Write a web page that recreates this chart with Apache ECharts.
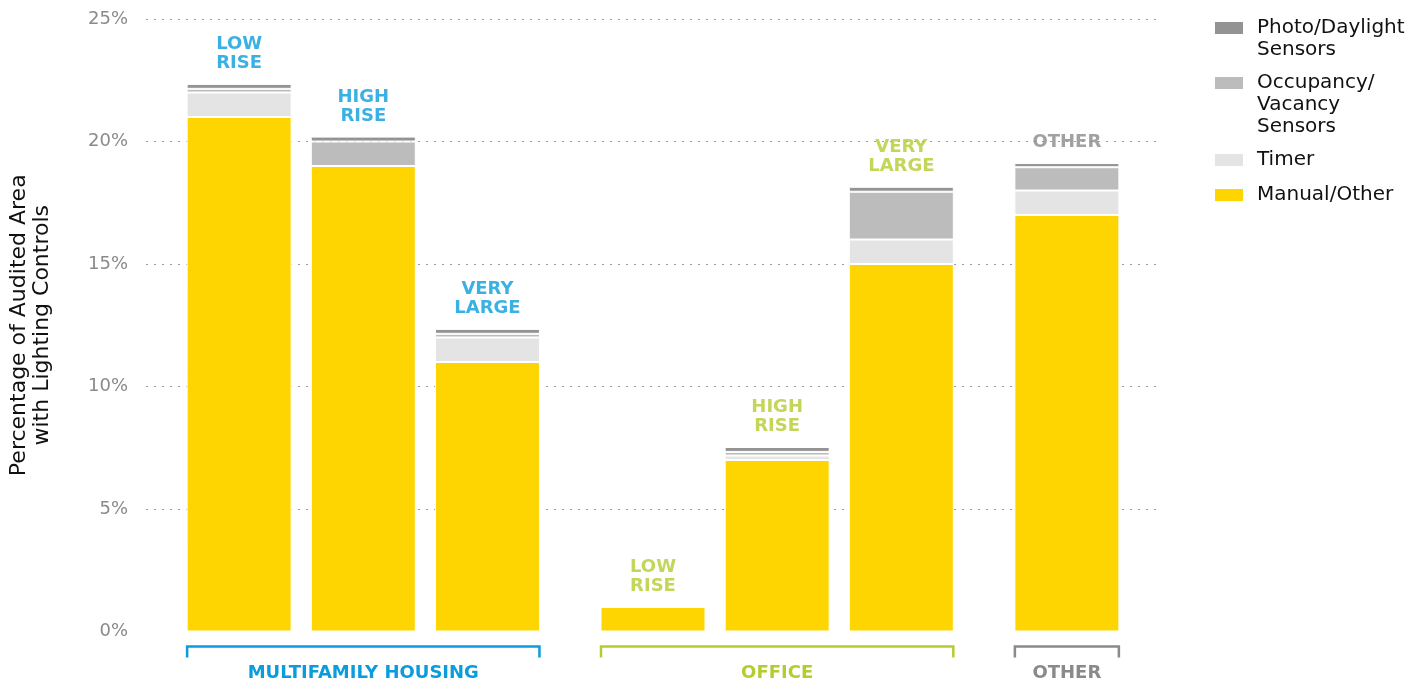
<!DOCTYPE html>
<html>
<head>
<meta charset="utf-8">
<script src="https://cdn.jsdelivr.net/npm/echarts@6/dist/echarts.min.js"></script>
<style>
  html, body { margin: 0; padding: 0; background: #fff; }
  #chart { width: 1422px; height: 683px; }
</style>
</head>
<body>
<div id="chart"></div>
<script>
// categories and groups
const groups = ['MULTIFAMILY HOUSING', 'OFFICE', 'OTHER'];
const barGroup = [0, 0, 0, 1, 1, 1, 2];
const barLabels = ['LOW\nRISE', 'HIGH\nRISE', 'VERY\nLARGE', 'LOW\nRISE', 'HIGH\nRISE', 'VERY\nLARGE', 'OTHER'];

// series values (% of audited area)
const manualOther = [21.0, 19.0, 11.0, 1.0, 7.0, 15.0, 17.0];
const timer       = [1.0, 0, 1.0, 0, 0.18, 1.0, 1.0];
const occupancy   = [0.15, 1.0, 0.15, 0, 0.15, 1.95, 0.95];
const photo       = [0.2, 0.2, 0.2, 0, 0.2, 0.2, 0.17];

const yTicks = [0, 5, 10, 15, 20, 25];

const seriesNames = ['Manual/Other', 'Timer', 'Occupancy/\nVacancy\nSensors', 'Photo/Daylight\nSensors'];
const seriesColors = ['#fed500', '#e4e4e5', '#bcbcbd', '#939393'];
const groupColors = ['#0a9cdc', '#b5cc30', '#8a8a8a'];
const FONT = 'DejaVu Sans';

const myChart = echarts.init(document.getElementById('chart'));

// layout slots: the plot is split in narrow slots, bars 6 slots apart,
// 2 extra slots between groups, 4 slots of margin on the left
const SLOTS = 49;
const slotNames = Array.from({ length: SLOTS }, (_, i) => String(i));
const pos = barGroup.map((g, i) => 4 + i * 6 + g * 2);
const totals = manualOther.map((v, i) => v + timer[i] + occupancy[i] + photo[i]);

function spread(vals) {
  const out = new Array(SLOTS).fill('-');
  vals.forEach((v, i) => { out[pos[i]] = v; });
  return out;
}

const groupSpans = groups.map((name, g) => {
  const p = pos.filter((_, i) => barGroup[i] === g);
  return [Math.min(...p), Math.max(...p), g];
});

const BAR_W = 105;

const barSeries = [manualOther, timer, occupancy, photo].map((vals, k) => ({
  name: seriesNames[k],
  type: 'bar',
  stack: 'total',
  barWidth: BAR_W,
  itemStyle: { color: seriesColors[k], borderColor: '#fff', borderWidth: 1 },
  data: spread(vals),
  z: 2
}));

// legend: one component per entry so the icon sits on the first text line
const legendIconY = { 'Photo/Daylight\nSensors': 28, 'Occupancy/\nVacancy\nSensors': 83, 'Timer': 160, 'Manual/Other': 195 };
const LH = 22;
const legends = seriesNames.slice().reverse().map(name => {
  const n = name.split('\n').length;
  return {
    left: 1213,
    top: legendIconY[name] - (2 * n - 1) * LH / 2,
    padding: 0,
    itemWidth: 30,
    itemHeight: 14,
    selectedMode: false,
    icon: 'rect',
    data: [name],
    formatter: nm => '\n'.repeat(n - 1) + nm,
    textStyle: {
      fontFamily: FONT, fontSize: 20, color: '#111', lineHeight: LH,
      padding: [0, 0, 0, 8]
    }
  };
});

const labelFont = { fontFamily: FONT, fontSize: 18, fontWeight: 'bold' };

const option = {
  animation: false,
  legend: legends,
  grid: { left: 143, right: 262, top: 19, bottom: 51.5 },
  xAxis: {
    type: 'category',
    data: slotNames,
    show: false
  },
  yAxis: {
    type: 'value',
    min: yTicks[0],
    max: yTicks[yTicks.length - 1],
    interval: 5,
    name: 'Percentage of Audited Area\nwith Lighting Controls',
    nameLocation: 'middle',
    nameGap: 92,
    nameTextStyle: { fontFamily: FONT, fontSize: 22, color: '#111', lineHeight: 23 },
    axisLine: { show: false },
    axisTick: { show: false },
    axisLabel: { formatter: '{value}%', color: '#8a8a8a', fontFamily: FONT, fontSize: 18, margin: 18 },
    splitLine: { show: true, showMinLine: false, lineStyle: { color: '#9a9a9a', type: [2, 6], width: 1 } }
  },
  series: [
    ...barSeries,
    {
      type: 'scatter',
      symbolSize: 0,
      silent: true,
      data: totals.map((t, i) => ({
        value: [pos[i], t],
        label: Object.assign({
          show: true,
          position: 'top',
          distance: 11,
          formatter: barLabels[i],
          color: groupColors[barGroup[i]],
          lineHeight: 19,
          align: 'center'
        }, labelFont)
      })),
      z: 3
    },
    {
      type: 'custom',
      silent: true,
      clip: false,
      encode: { x: [0, 1], y: 2 },
      data: groupSpans,
      renderItem: function (params, api) {
        const a = api.coord([api.value(0), 0]);
        const b = api.coord([api.value(1), 0]);
        const g = api.value(2);
        const x1 = a[0] - BAR_W / 2 + 0.5, x2 = b[0] + BAR_W / 2 - 0.5;
        const yl = a[1] + 15;
        return {
          type: 'group',
          children: [
            {
              type: 'polyline',
              shape: { points: [[x1, yl + 11], [x1, yl], [x2, yl], [x2, yl + 11]] },
              style: { stroke: groupColors[g], lineWidth: 2.5, fill: null }
            },
            {
              type: 'text',
              x: (x1 + x2) / 2,
              y: yl + 27,
              style: Object.assign({
                text: groups[g], fill: groupColors[g],
                align: 'center', verticalAlign: 'middle'
              }, labelFont)
            }
          ]
        };
      },
      z: 4
    }
  ]
};

myChart.setOption(option);
</script>
</body>
</html>
